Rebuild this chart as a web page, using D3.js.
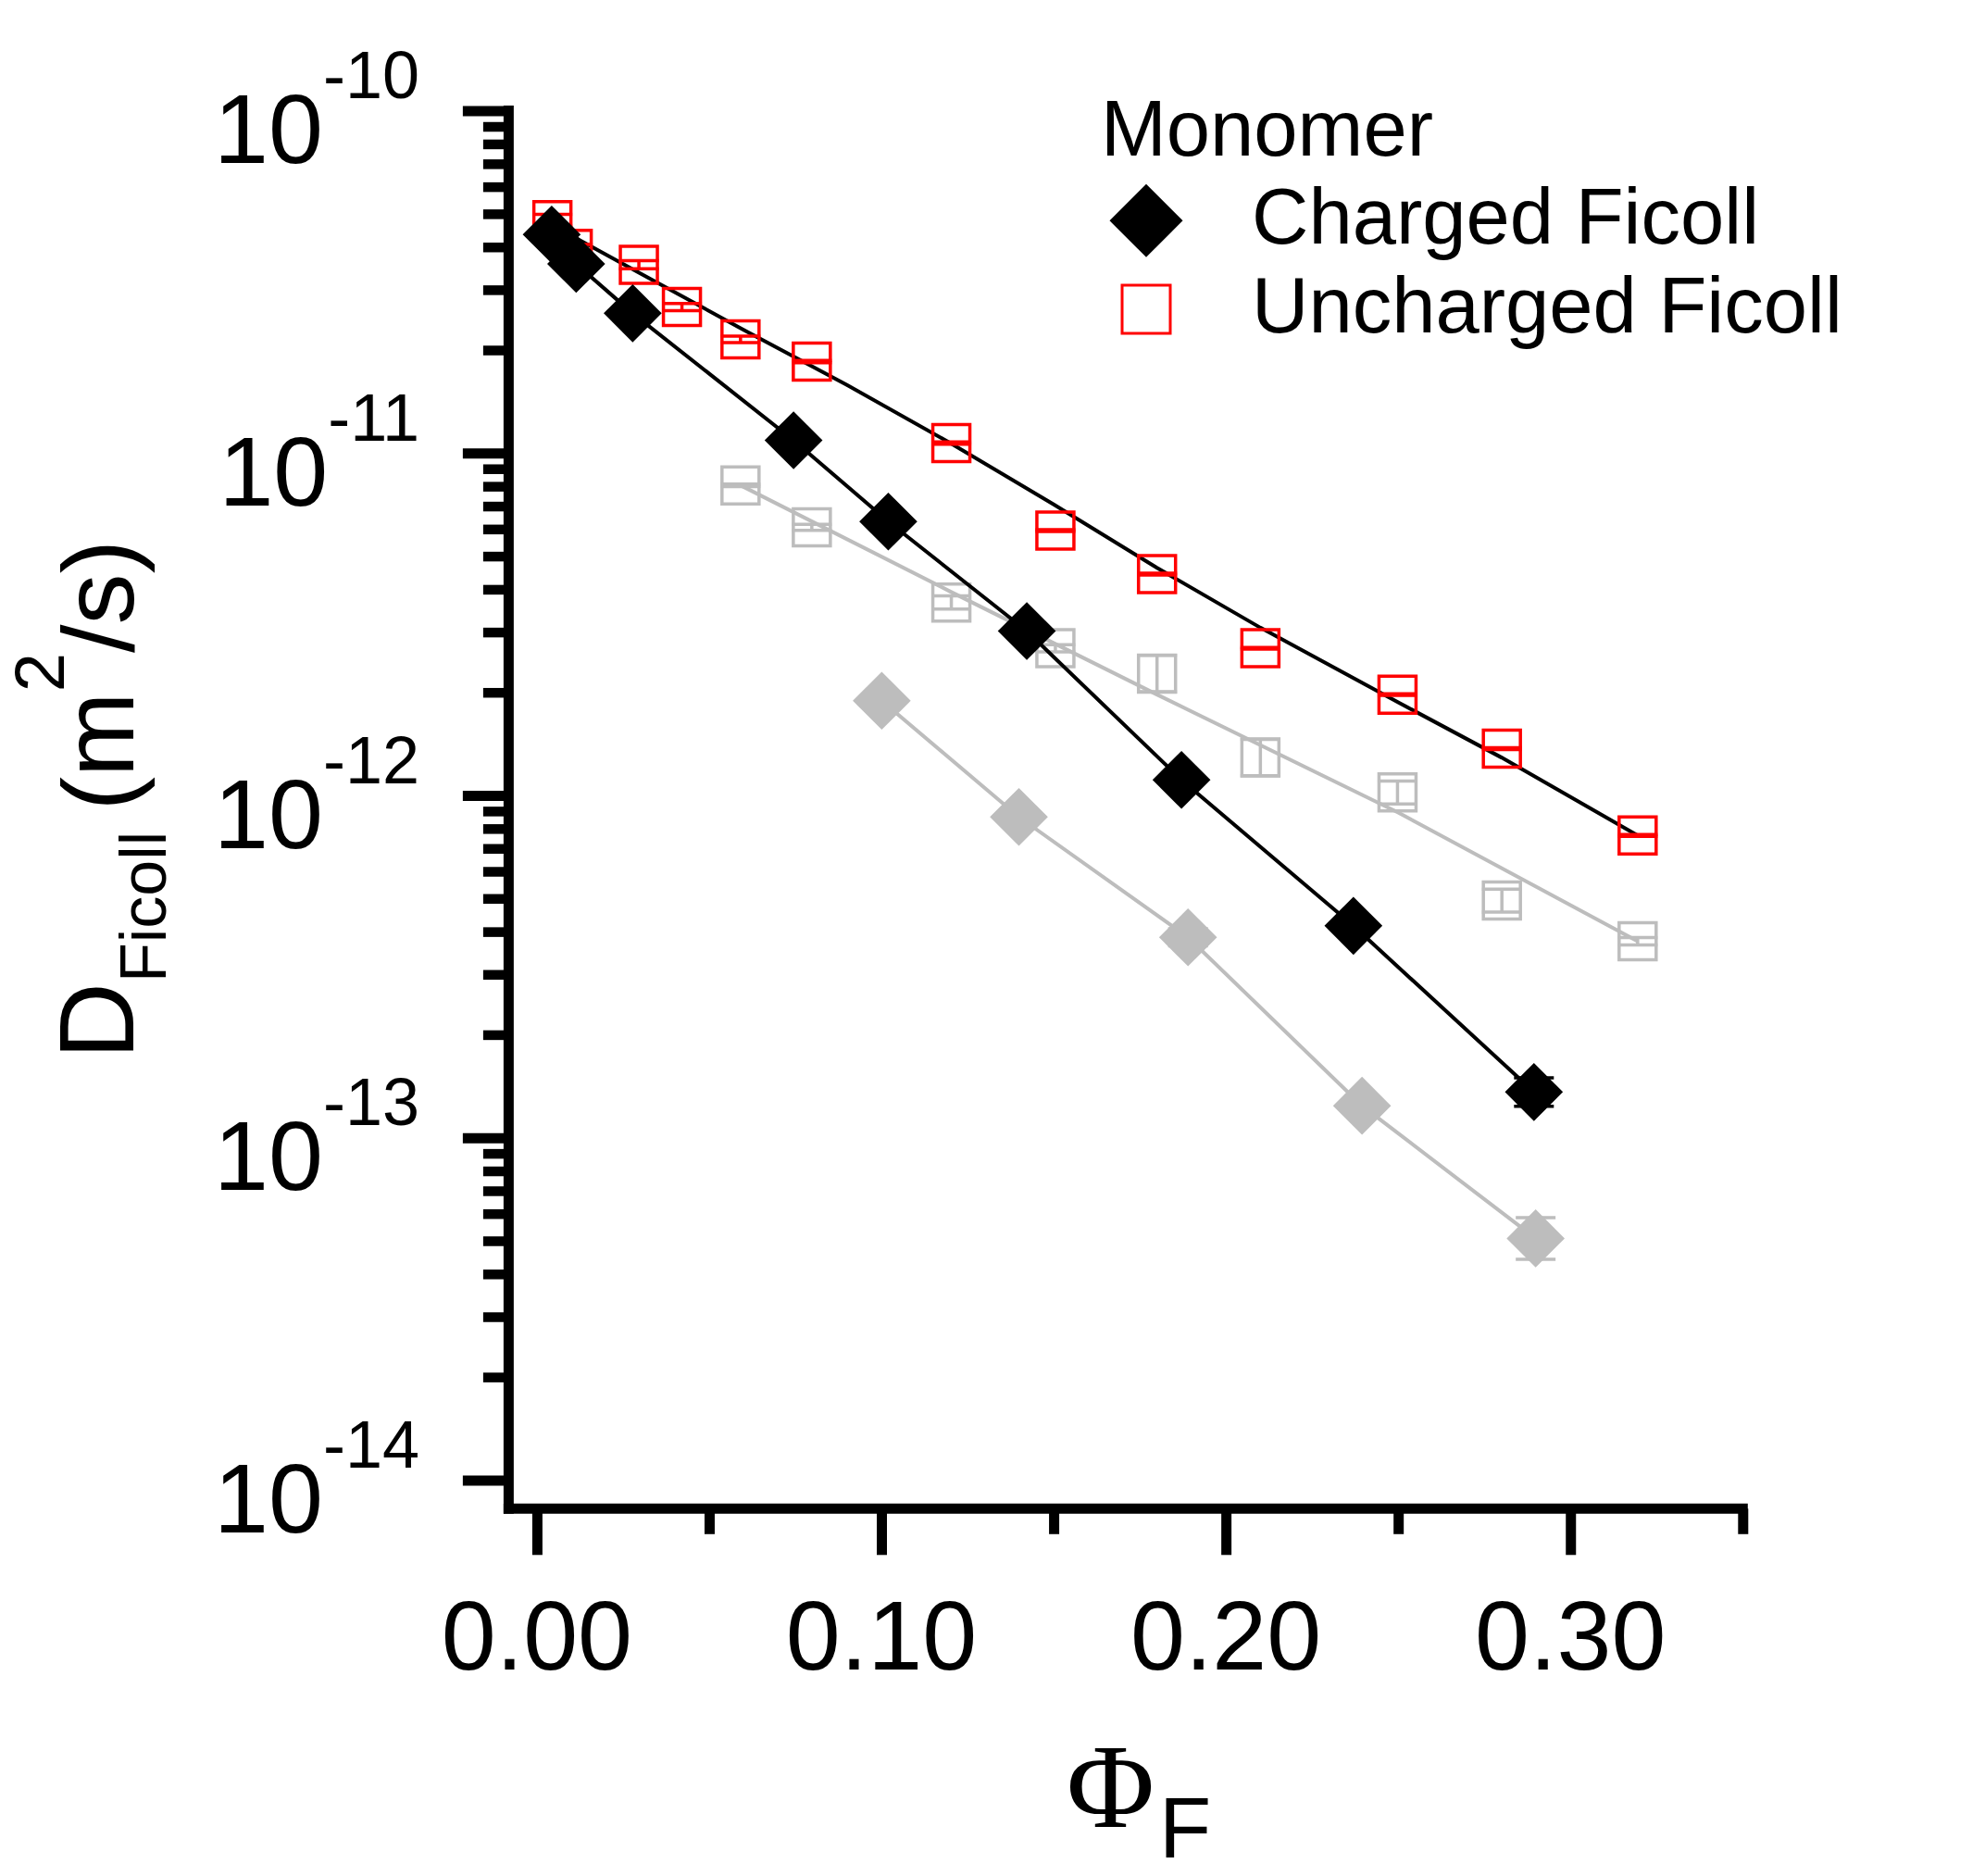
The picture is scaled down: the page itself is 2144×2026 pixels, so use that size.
<!DOCTYPE html>
<html>
<head>
<meta charset="utf-8">
<script src="https://cdn.jsdelivr.net/npm/d3@7"></script>
<style>
  body { margin: 0; background: #fff; }
  text { font-family: "Liberation Sans", Arial, sans-serif; fill: #000; }
</style>
</head>
<body>
<div id="chart"></div>
<script>
// Monomer, charged Ficoll (black diamonds)
const phiCharged = [0.0043, 0.0114, 0.0278, 0.0745, 0.1020, 0.1422, 0.1871, 0.2370, 0.2894];
const dCharged   = [4.35e-11, 3.57e-11, 2.56e-11, 1.09e-11, 6.31e-12, 3.02e-12, 1.11e-12, 4.16e-13, 1.36e-13];
const errCharged = [0.03, 0.03, 0.03, 0.03, 0.03, 0.03, 0.03, 0.04, 0.10];

// Monomer, uncharged Ficoll (red open squares)
const phiUncharged = [0.0045, 0.0104, 0.0296, 0.0421, 0.0591, 0.0798, 0.1203, 0.1505, 0.1800, 0.2100, 0.2498, 0.2801, 0.3195];
const dUncharged   = [4.79e-11, 3.95e-11, 3.55e-11, 2.67e-11, 2.15e-11, 1.85e-11, 1.07e-11, 5.94e-12, 4.43e-12, 2.69e-12, 1.97e-12, 1.37e-12, 7.64e-13];
const errUncharged = [0.04, 0.03, 0.027, 0.025, 0.022, 0.008, 0.008, 0.006, 0.006, 0.006, 0.006, 0.006, 0.006];

// fit curve drawn through the uncharged points
const phiFitUncharged = [0.0045, 0.03, 0.06, 0.09, 0.12, 0.15, 0.18, 0.21, 0.25, 0.28, 0.3195];
const dFitUncharged   = [4.63e-11, 3.35e-11, 2.29e-11, 1.58e-11, 1.07e-11, 7.08e-12, 4.62e-12, 3.09e-12, 1.87e-12, 1.29e-12, 7.64e-13];

// grey series (not in legend)
const phiGreyCharged = [0.1001, 0.1399, 0.1890, 0.2395, 0.2899];
const dGreyCharged   = [1.89e-12, 8.65e-13, 3.85e-13, 1.24e-13, 5.08e-14];
const errGreyCharged = [0.03, 0.03, 0.06, 0.03, 0.15];

const phiGreyUncharged = [0.0591, 0.0798, 0.1203, 0.1505, 0.1800, 0.2100, 0.2498, 0.2801, 0.3195];
const dGreyUncharged   = [8.05e-12, 6.07e-12, 3.66e-12, 2.69e-12, 2.27e-12, 1.29e-12, 1.02e-12, 4.93e-13, 3.75e-13];
const errGreyUncharged = [0.008, 0.02, 0.045, 0.025, 0.13, 0.13, 0.08, 0.08, 0.025];

const phiFitGrey = [0.0591, 0.12, 0.18, 0.25, 0.3195];
const dFitGrey   = [8.05e-12, 3.94e-12, 1.97e-12, 8.91e-13, 3.75e-13];

// axes
const xMajor = [0, 0.1, 0.2, 0.3];
const xMinor = [0.05, 0.15, 0.25, 0.35];
const xLabels = ['0.00', '0.10', '0.20', '0.30'];
const yExponents = [-10, -11, -12, -13, -14];
const yMinor = d3.range(-14, -10).flatMap(e => d3.range(2, 10).map(k => k * Math.pow(10, e)));
const xMin = -0.0082, yMin = 8.25e-15;

const legendTitle = 'Monomer';
const legendLabels = ['Charged Ficoll', 'Uncharged Ficoll'];

const RED = '#ff0000', GREY = '#bdbdbd';

const width = 2144, height = 2026;
const svg = d3.select('#chart').append('svg')
  .attr('width', width)
  .attr('height', height);
svg.append('rect').attr('width', width).attr('height', height).attr('fill', '#fff');

const x = d3.scaleLinear().domain([0, 0.35]).range([579.9, 1882.3]);
const y = d3.scaleLog().domain([1e-10, 1e-14]).range([119.6, 1598.4]);

const axisX = x(xMin), axisY = y(yMin);

// y axis ticks
const yAxisG = svg.append('g').attr('transform', `translate(${axisX},0)`);
yAxisG.call(d3.axisLeft(y).tickValues(yExponents.map(e => Math.pow(10, e))).tickSize(49.5).tickFormat(''));
yAxisG.call(g => g.selectAll('.tick line').attr('stroke-width', 11).attr('stroke', '#000'));
const yMinorG = svg.append('g').attr('transform', `translate(${axisX},0)`);
yMinorG.call(d3.axisLeft(y).tickValues(yMinor).tickSize(27.5).tickFormat(''));
yMinorG.call(g => g.selectAll('.tick line').attr('stroke-width', 10.5).attr('stroke', '#000'));
svg.selectAll('.domain').remove();

// x axis ticks
const xAxisG = svg.append('g').attr('transform', `translate(0,${axisY})`);
xAxisG.call(d3.axisBottom(x).tickValues(xMajor).tickSize(50).tickFormat(''));
xAxisG.call(g => g.selectAll('.tick line').attr('stroke-width', 11).attr('stroke', '#000'));
const xMinorG = svg.append('g').attr('transform', `translate(0,${axisY})`);
xMinorG.call(d3.axisBottom(x).tickValues(xMinor).tickSize(27.5).tickFormat(''));
xMinorG.call(g => g.selectAll('.tick line').attr('stroke-width', 11).attr('stroke', '#000'));
svg.selectAll('.domain').remove();

// axis lines
svg.append('line')
  .attr('x1', axisX).attr('x2', axisX)
  .attr('y1', y(1e-10) - 5.5).attr('y2', axisY + 5.5)
  .attr('stroke', '#000').attr('stroke-width', 11);
svg.append('line')
  .attr('x1', axisX - 5.5).attr('x2', x(0.35) + 5.5)
  .attr('y1', axisY).attr('y2', axisY)
  .attr('stroke', '#000').attr('stroke-width', 11);

// y tick labels 10^n
yExponents.forEach(e => {
  const t = svg.append('text')
    .attr('x', 453)
    .attr('y', y(Math.pow(10, e)) + 56.5)
    .attr('text-anchor', 'end');
  t.append('tspan').attr('font-size', 106).text('10');
  t.append('tspan').attr('font-size', 72).attr('dy', -70).text(String(e));
});

// x tick labels
svg.selectAll('.xlabel')
  .data(xMajor)
  .enter().append('text')
    .attr('class', 'xlabel')
    .attr('x', d => x(d))
    .attr('y', 1803)
    .attr('text-anchor', 'middle')
    .attr('font-size', 106)
    .text((d, i) => xLabels[i]);

// y title
const yt = svg.append('text')
  .attr('transform', 'translate(144,1144) rotate(-90)');
yt.append('tspan').attr('font-size', 115).text('D');
yt.append('tspan').attr('font-size', 70).attr('dy', 35).text('Ficoll');
yt.append('tspan').attr('font-size', 110).attr('dy', -35).attr('dx', 22).text('(m');
yt.append('tspan').attr('font-size', 76).attr('dy', -75).text('2');
yt.append('tspan').attr('font-size', 110).attr('dy', 75).text('/s)');

// x title
const xt = svg.append('text').attr('x', 1152).attr('y', 1973);
xt.append('tspan').style('font-family', '"Liberation Serif", "Times New Roman", serif').attr('font-size', 130).text('Φ');
xt.append('tspan').attr('font-size', 92).attr('dx', 5).attr('dy', 33).text('F');

// helpers
const pts = (phi, d, err) => phi.map((p, i) => ({ phi: p, d: d[i], err: err ? err[i] : 0 }));
const line = d3.line().x(p => x(p.phi)).y(p => y(p.d));
const square = d3.symbol(d3.symbolSquare, 40 * 40);
const diamond = d3.symbol(d3.symbolSquare, 44.3 * 44.3);

function drawLine(phi, d, colour) {
  svg.append('path')
    .datum(pts(phi, d))
    .attr('d', line)
    .attr('fill', 'none')
    .attr('stroke', colour)
    .attr('stroke-width', 4);
}

function drawErrors(data, colour, w) {
  const g = svg.append('g').attr('stroke', colour).attr('stroke-width', w);
  data.forEach(p => {
    const y1 = y(p.d * (1 + p.err)), y2 = y(p.d / (1 + p.err)), cx = x(p.phi);
    g.append('line').attr('x1', cx).attr('x2', cx).attr('y1', y1).attr('y2', y2);
    g.append('line').attr('x1', cx - 21.5).attr('x2', cx + 21.5).attr('y1', y1).attr('y2', y1);
    g.append('line').attr('x1', cx - 21.5).attr('x2', cx + 21.5).attr('y1', y2).attr('y2', y2);
  });
}

function drawSquares(data, colour) {
  svg.append('g').selectAll('path')
    .data(data)
    .enter().append('path')
      .attr('d', square)
      .attr('transform', p => `translate(${x(p.phi)},${y(p.d)})`)
      .attr('fill', 'none')
      .attr('stroke', colour)
      .attr('stroke-width', 3.5);
}

function drawDiamonds(data, colour) {
  svg.append('g').selectAll('path')
    .data(data)
    .enter().append('path')
      .attr('d', diamond)
      .attr('transform', p => `translate(${x(p.phi)},${y(p.d)}) rotate(45)`)
      .attr('fill', colour);
}

// grey series
const greyU = pts(phiGreyUncharged, dGreyUncharged, errGreyUncharged);
const greyC = pts(phiGreyCharged, dGreyCharged, errGreyCharged);
drawLine(phiFitGrey, dFitGrey, GREY);
drawLine(phiGreyCharged, dGreyCharged, GREY);
drawErrors(greyU, GREY, 3.5);
drawSquares(greyU, GREY);
drawErrors(greyC, GREY, 3.5);
drawDiamonds(greyC, GREY);

// monomer series
const unch = pts(phiUncharged, dUncharged, errUncharged);
const ch = pts(phiCharged, dCharged, errCharged);
drawLine(phiFitUncharged, dFitUncharged, '#000');
drawLine(phiCharged, dCharged, '#000');
drawErrors(unch, RED, 3.5);
drawSquares(unch, RED);
drawErrors(ch, '#000', 3.5);
drawDiamonds(ch, '#000');

// legend
svg.append('text').attr('x', 1189).attr('y', 168).attr('font-size', 85).text(legendTitle);
svg.append('path')
  .attr('d', d3.symbol(d3.symbolSquare, 55.9 * 55.9))
  .attr('transform', 'translate(1238,238.3) rotate(45)')
  .attr('fill', '#000');
svg.append('path')
  .attr('d', d3.symbol(d3.symbolSquare, 52 * 52))
  .attr('transform', 'translate(1238,334)')
  .attr('fill', 'none')
  .attr('stroke', RED)
  .attr('stroke-width', 3);
svg.append('text').attr('x', 1352).attr('y', 263).attr('font-size', 85).text(legendLabels[0]);
svg.append('text').attr('x', 1352).attr('y', 359).attr('font-size', 85).text(legendLabels[1]);
</script>
</body>
</html>
